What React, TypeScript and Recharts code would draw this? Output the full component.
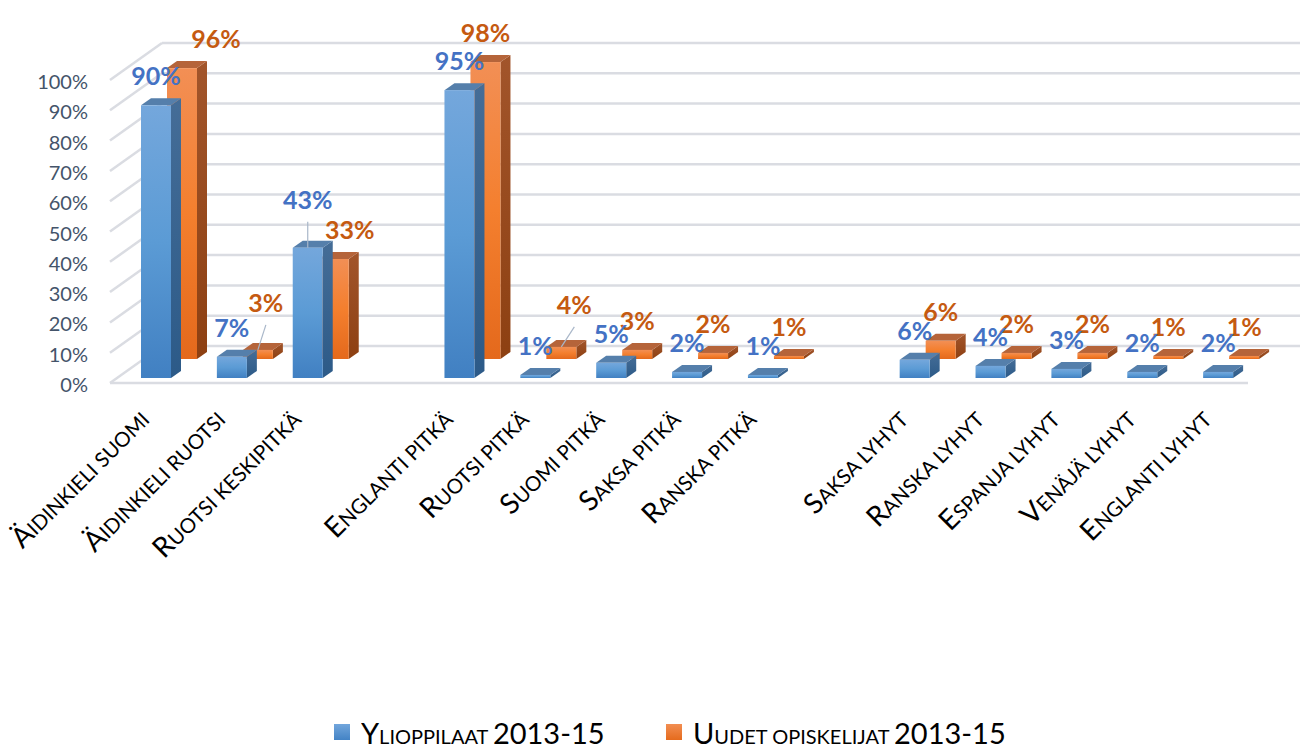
import React from 'react';
import { BarChart, Bar, XAxis, YAxis, CartesianGrid, Legend, LabelList } from 'recharts';

// kategoriat (tyhjät välit ryhmien välissä)
const categories = [
    'Äidinkieli suomi',
    'Äidinkieli ruotsi',
    'Ruotsi keskipitkä',
    '',
    'Englanti pitkä',
    'Ruotsi pitkä',
    'Suomi pitkä',
    'Saksa pitkä',
    'Ranska pitkä',
    '',
    'Saksa lyhyt',
    'Ranska lyhyt',
    'Espanja lyhyt',
    'Venäjä lyhyt',
    'Englanti lyhyt',
];

const ylioppilaat = [90, 7, 43, null, 95, 1, 5, 2, 1, null, 6, 4, 3, 2, 2];
const uudetOpiskelijat = [96, 3, 33, null, 98, 4, 3, 2, 1, null, 6, 2, 2, 1, 1];

const yTicks = [0, 10, 20, 30, 40, 50, 60, 70, 80, 90, 100];

const seriesNames = {
    yo: 'Ylioppilaat 2013-15',
    uudet: 'Uudet opiskelijat 2013-15',
};

const chartData = categories.map((name, i) => ({
    name,
    yo: ylioppilaat[i],
    uudet: uudetOpiskelijat[i],
}));

const FONT = 'Lato, "Open Sans", sans-serif';

// takasarjan siirtymä (3D-syvyys)
const BACK_DX = 26;
const BACK_DY = -19;

// käsin siirretyt arvoselitteet (kuten alkuperäisessä)
const labelNudge: Record<string, Record<string, [number, number, boolean]>> = {
    yo: {
        'Ruotsi keskipitkä': [0, -19, true],
    },
    uudet: {
        'Äidinkieli suomi': [34, 0, false],
        'Äidinkieli ruotsi': [8, -18, true],
        'Ruotsi keskipitkä': [16, 0, false],
        'Englanti pitkä': [13, -13, true],
    },
};

const palettes = {
    blue: { id: 'blue', top: '#557fab', label: '#4472c4' },
    orange: { id: 'orange', top: '#b5643a', label: '#c55a11' },
};

function smallCaps(text: string, big: number, small: number) {
    const runs: { t: string; s: number }[] = [];
    for (const ch of text) {
        const isLower = ch !== ch.toUpperCase() || ch === ' ';
        const size = isLower ? small : big;
        const out = ch.toUpperCase();
        const last = runs[runs.length - 1];
        if (last && last.s === size) last.t += out;
        else runs.push({ t: out, s: size });
    }
    return runs.map((r, i) => (
        <tspan key={i} fontSize={r.s}>
            {r.t}
        </tspan>
    ));
}

function Box3D(props: any) {
    const { x, y, width, height, pal, dx = 0, dy = 0 } = props;
    if (x == null || height == null) return null;
    const X = x + dx;
    const Y = y + dy;
    const w = width;
    const h = Math.max(height, 0);
    const d = 10;
    const e = 7;
    return (
        <g>
            <polygon
                points={`${X + w},${Y} ${X + w + d},${Y - e} ${X + w + d},${Y + h - e} ${X + w},${Y + h}`}
                fill={`url(#${pal.id}Side)`}
            />
            <polygon points={`${X},${Y} ${X + d},${Y - e} ${X + w + d},${Y - e} ${X + w},${Y}`} fill={pal.top} />
            <rect x={X} y={Y} width={w} height={h} fill={`url(#${pal.id}Front)`} />
        </g>
    );
}

function makeLabel(key: 'yo' | 'uudet', color: string, ox: number, oy: number) {
    return (props: any) => {
        const { index, value } = props;
        if (value == null) return null;
        const vb = props.viewBox || props;
        const x = vb.x ?? props.x;
        const y = vb.y ?? props.y;
        const width = vb.width ?? props.width;
        const n = labelNudge[key][categories[index]] || [0, 0, false];
        const cx = x + ox + width / 2;
        const top = y + oy;
        const lx = cx + n[0];
        const by = top - 20 + n[1];
        return (
            <g>
                {n[2] && <line x1={lx} y1={by + 13} x2={cx} y2={top} stroke="#a9b7c9" strokeWidth={1.2} />}
                <text x={lx} y={by} textAnchor="middle" fill={color} fontSize={25} fontWeight={700} fontFamily={FONT}>
                    {`${value}%`}
                </text>
            </g>
        );
    };
}

function CategoryTick(props: any) {
    const { x, y, payload } = props;
    if (!payload || !payload.value) return null;
    return (
        <g transform={`translate(${x - 5},${y + 5}) rotate(-45)`}>
            <text textAnchor="end" fill="#000" fontFamily={FONT}>
                {smallCaps(payload.value, 28, 20.5)}
            </text>
        </g>
    );
}

function PercentTick(props: any) {
    const { y, payload } = props;
    return (
        <text x={88} y={y + 6} textAnchor="end" dominantBaseline="central" fill="#44546a" fontSize={20} fontFamily={FONT}>
            {`${payload.value}%`}
        </text>
    );
}

// 3D-seinän ruudukko
function GridLine(props: any) {
    const { x1, x2, y1 } = props;
    const gridColor = '#dadce2';
    const isFloor = Math.abs(y1 - 378) < 1;
    return (
        <g>
            <line x1={x1 + 44} y1={y1 - 32} x2={x2 + 44} y2={y1 - 32} stroke={gridColor} strokeWidth={2.5} />
            <line x1={x1 - 8} y1={y1 + 5} x2={x1 + 44} y2={y1 - 32} stroke={gridColor} strokeWidth={2.5} />
            {isFloor && <line x1={x1 - 8} y1={y1 + 5} x2={x2 - 8} y2={y1 + 5} stroke={gridColor} strokeWidth={2.5} />}
        </g>
    );
}

function LegendContent() {
    const items = [
        { name: seriesNames.yo, pal: palettes.blue },
        { name: seriesNames.uudet, pal: palettes.orange },
    ];
    return (
        <div style={{ height: 51, display: 'flex', alignItems: 'flex-end', paddingLeft: 334, boxSizing: 'border-box' }}>
            {items.map((it, i) => (
                <div key={i} style={{ display: 'flex', alignItems: 'center', marginRight: 55, height: 34 }}>
                    <svg width={16} height={16} style={{ marginRight: 11 }}>
                        <rect width={16} height={16} fill={`url(#${it.pal.id}LegendFill)`} />
                        <defs>
                            <linearGradient id={`${it.pal.id}LegendFill`} x1="0" y1="0" x2="0" y2="1">
                                <stop offset="0%" stopColor={it.pal.id === 'blue' ? '#72a6dc' : '#f28e52'} />
                                <stop offset="100%" stopColor={it.pal.id === 'blue' ? '#4383c5' : '#e56b1d'} />
                            </linearGradient>
                        </defs>
                    </svg>
                    <svg width={it.pal.id === 'blue' ? 250 : 330} height={34}>
                        <text x={0} y={29} fill="#000" fontFamily={FONT}>
                            {smallCaps(it.name, 29, 20)}
                        </text>
                    </svg>
                </div>
            ))}
        </div>
    );
}

export default function App() {
    return (
        <div style={{ position: 'absolute', left: 0, top: 0, width: 1306, height: 749, background: '#fff' }}>
            <BarChart
                width={1306}
                height={749}
                data={chartData}
                margin={{ top: 75, right: 50, left: 0, bottom: 0 }}
            >
                <defs>
                    <linearGradient id="blueFront" x1="0" y1="0" x2="0" y2="1">
                        <stop offset="0%" stopColor="#74a7dc" />
                        <stop offset="50%" stopColor="#5b9bd5" />
                        <stop offset="100%" stopColor="#4180c2" />
                    </linearGradient>
                    <linearGradient id="blueSide" x1="0" y1="0" x2="0" y2="1">
                        <stop offset="0%" stopColor="#456d97" />
                        <stop offset="100%" stopColor="#2c5a88" />
                    </linearGradient>
                    <linearGradient id="orangeFront" x1="0" y1="0" x2="0" y2="1">
                        <stop offset="0%" stopColor="#f28f55" />
                        <stop offset="50%" stopColor="#f47f2e" />
                        <stop offset="100%" stopColor="#e4691c" />
                    </linearGradient>
                    <linearGradient id="orangeSide" x1="0" y1="0" x2="0" y2="1">
                        <stop offset="0%" stopColor="#a2552b" />
                        <stop offset="100%" stopColor="#8d4012" />
                    </linearGradient>
                </defs>

                <CartesianGrid vertical={false} horizontal={(p: any) => <GridLine key={p.key} {...p} />} />

                <XAxis
                    xAxisId="front"
                    dataKey="name"
                    height={320}
                    interval={0}
                    tickLine={false}
                    axisLine={false}
                    tick={<CategoryTick />}
                />
                <XAxis xAxisId="back" dataKey="name" hide />

                <YAxis
                    width={118}
                    domain={[0, 100]}
                    ticks={yTicks}
                    tickLine={false}
                    axisLine={false}
                    tick={<PercentTick />}
                />

                <Legend verticalAlign="bottom" wrapperStyle={{ left: 0, width: 1306 }} content={<LegendContent />} />

                {/* takarivi: uudet opiskelijat */}
                <Bar
                    xAxisId="back"
                    dataKey="uudet"
                    name={seriesNames.uudet}
                    barSize={30}
                    isAnimationActive={false}
                    shape={(p: any) => <Box3D {...p} pal={palettes.orange} dx={BACK_DX} dy={BACK_DY} />}
                >
                    <LabelList dataKey="uudet" content={makeLabel('uudet', palettes.orange.label, BACK_DX, BACK_DY)} />
                </Bar>

                {/* eturivi: ylioppilaat */}
                <Bar
                    xAxisId="front"
                    dataKey="yo"
                    name={seriesNames.yo}
                    barSize={30}
                    isAnimationActive={false}
                    shape={(p: any) => <Box3D {...p} pal={palettes.blue} />}
                >
                    <LabelList dataKey="yo" content={makeLabel('yo', palettes.blue.label, 0, 0)} />
                </Bar>
            </BarChart>
        </div>
    );
}
